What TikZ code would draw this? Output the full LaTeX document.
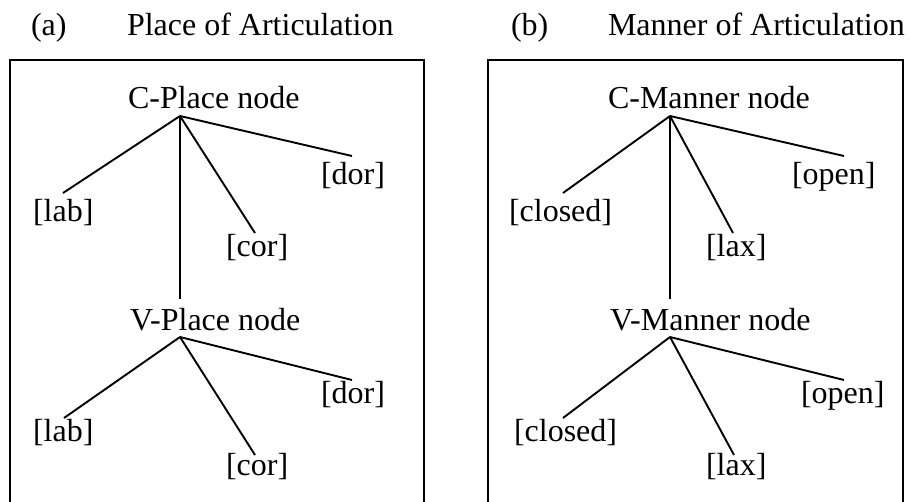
\documentclass[tikz,border=0pt]{standalone}
\usepackage{fontspec}
\setmainfont{Liberation Serif}
\begin{document}
\begin{tikzpicture}[x=1pt,y=-1pt,
  lbl/.style={anchor=base west,inner sep=0pt,outer sep=0pt,font=\fontsize{32}{38}\selectfont},
  branch/.style={line width=1.9pt},
  frame/.style={line width=2pt}]
\useasboundingbox (0,0) rectangle (910,502);
% titles
\node[lbl] (ta) at (31,36) {(a)};
\node[lbl] (tpa) at (127,36) {Place of Articulation};
\node[lbl] (tb) at (511,36) {(b)};
\node[lbl] (tma) at (608,36) {Manner of Articulation};
% frames
\draw[frame] (9.5,502) -- (9.5,60) -- (424,60) -- (424,502);
\draw[frame] (488,502) -- (488,60) -- (903,60) -- (903,502);
% ===== panel (a)
\node[lbl] (cp) at (128,109) {C-Place node};
\node[lbl] (clab) at (33,222) {[lab]};
\node[lbl] (ccor) at (226,257) {[cor]};
\node[lbl] (cdor) at (321,185) {[dor]};
\node[lbl] (vp) at (130,331) {V-Place node};
\node[lbl] (vlab) at (33,441) {[lab]};
\node[lbl] (vcor) at (226,475) {[cor]};
\node[lbl] (vdor) at (321,403) {[dor]};
\coordinate (cpr) at (180,116);
\coordinate (clabe) at (63,193);
\coordinate (ccore) at (255,233);
\coordinate (cdore) at (352,156);
\coordinate (vpt) at (180,299);
\coordinate (vpr) at (180,337);
\coordinate (vlabe) at (64,418);
\coordinate (vcore) at (255,455);
\coordinate (vdore) at (352,380);
\draw[branch] (cpr) -- (clabe);
\draw[branch] (cpr) -- (ccore);
\draw[branch] (cpr) -- (cdore);
\draw[branch] (cpr) -- (vpt);
\draw[branch] (vpr) -- (vlabe);
\draw[branch] (vpr) -- (vcore);
\draw[branch] (vpr) -- (vdore);
% ===== panel (b)
\node[lbl] (cm) at (608,109) {C-Manner node};
\node[lbl] (cclo) at (509,222) {[closed]};
\node[lbl] (clax) at (706,257) {[lax]};
\node[lbl] (copen) at (792,185) {[open]};
\node[lbl] (vm) at (610,331) {V-Manner node};
\node[lbl] (vclo) at (514,441) {[closed]};
\node[lbl] (vlax) at (706,475) {[lax]};
\node[lbl] (vopen) at (801,403) {[open]};
\coordinate (cmr) at (670,116);
\coordinate (ccloe) at (563,193);
\coordinate (claxe) at (733,233);
\coordinate (copene) at (844,156);
\coordinate (vmt) at (670,299);
\coordinate (vmr) at (670,337);
\coordinate (vcloe) at (563,418);
\coordinate (vlaxe) at (734,455);
\coordinate (vopene) at (844,380);
\draw[branch] (cmr) -- (ccloe);
\draw[branch] (cmr) -- (claxe);
\draw[branch] (cmr) -- (copene);
\draw[branch] (cmr) -- (vmt);
\draw[branch] (vmr) -- (vcloe);
\draw[branch] (vmr) -- (vlaxe);
\draw[branch] (vmr) -- (vopene);
\end{tikzpicture}
\end{document}
